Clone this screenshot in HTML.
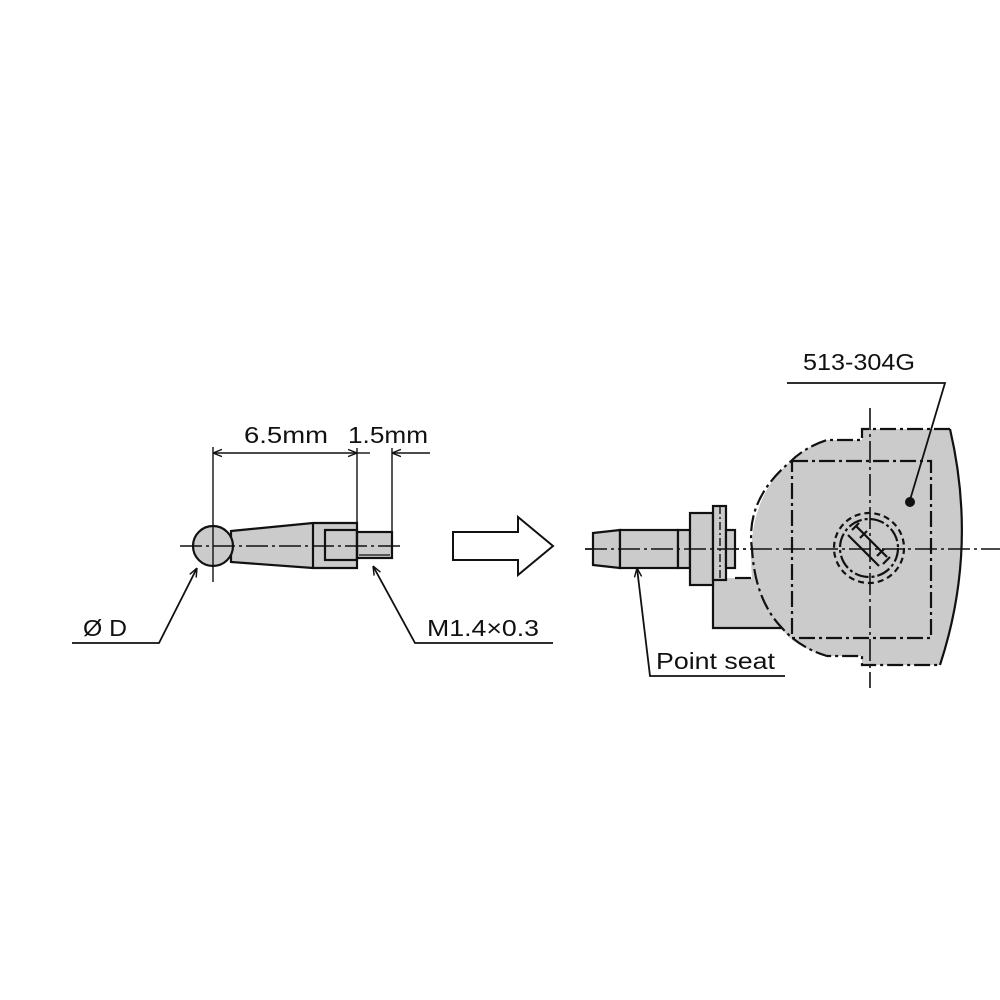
<!DOCTYPE html>
<html><head><meta charset="utf-8"><style>
html,body{margin:0;padding:0;background:#fff;}
svg{display:block;}
text{font-family:"Liberation Sans",sans-serif;fill:#111;}
</style></head><body>
<svg width="1000" height="1000" viewBox="0 0 1000 1000" xmlns="http://www.w3.org/2000/svg">
<defs>
<marker id="ah" viewBox="0 0 10 10" refX="10" refY="5" markerWidth="9" markerHeight="9" orient="auto-start-reverse" markerUnits="userSpaceOnUse">
<path d="M0,1 L10,5 L0,9" fill="none" stroke="#111" stroke-width="1.6"/>
</marker>
</defs>
<rect width="1000" height="1000" fill="#fff"/>

<!-- LEFT PROBE -->
<g stroke="#111" stroke-width="2.2" fill="#cbcbcb">
<path d="M231,531 L313,523 L357,523 L357,568 L313,568 L231,562 Z"/>
<circle cx="213" cy="546" r="20"/>
<rect x="357" y="532" width="35" height="26"/>
<line x1="313" y1="523" x2="313" y2="568"/>
<rect x="325" y="530" width="32" height="30" fill="none"/>
<line x1="359" y1="555" x2="390" y2="555" stroke-width="1.2"/>
</g>
<g stroke="#111" stroke-width="1.4" fill="none">
<line x1="180" y1="546" x2="403" y2="546" stroke-dasharray="22,4,3,4"/>
<line x1="213" y1="447" x2="213" y2="582"/>
<line x1="357" y1="448" x2="357" y2="523"/>
<line x1="392" y1="448" x2="392" y2="532"/>
<line x1="213" y1="453" x2="357" y2="453" marker-start="url(#ah)" marker-end="url(#ah)"/>
<line x1="430" y1="453" x2="392" y2="453" marker-end="url(#ah)"/>
<line x1="357" y1="453" x2="370" y2="453"/>
<polyline points="72,643 159,643 197,568" marker-end="url(#ah)" stroke-width="1.8"/>
<polyline points="553,643 415,643 373,566" marker-end="url(#ah)" stroke-width="1.8"/>
</g>
<text x="244" y="443" font-size="23" textLength="84" lengthAdjust="spacingAndGlyphs">6.5mm</text>
<text x="348" y="443" font-size="23" textLength="80" lengthAdjust="spacingAndGlyphs">1.5mm</text>
<text x="83" y="636" font-size="23" textLength="44" lengthAdjust="spacingAndGlyphs">Ø D</text>
<text x="427" y="636" font-size="23" textLength="112" lengthAdjust="spacingAndGlyphs">M1.4×0.3</text>

<!-- HOLLOW ARROW -->
<path d="M453,532 L518,532 L518,517 L553,546 L518,575 L518,560 L453,560 Z" fill="#fff" stroke="#111" stroke-width="2"/>

<!-- RIGHT BODY -->
<path d="M862,429 L950,429 Q978,549 940,665 L862,665 L862,656 L827,656 Q790,645 782,628 L713,628 L713,578 L752,578 Q745,500 790,462 Q805,447 827,440 L862,440 Z" fill="#cbcbcb" stroke="none"/>
<g fill="none" stroke="#111" stroke-width="2.2">
<path d="M950,429 Q978,549 940,665"/>
<path d="M713,578 L713,628 L782,628" />
</g>
<g fill="none" stroke="#111" stroke-width="2.2" stroke-dasharray="16,4,3,4">
<path d="M950,429 L862,429 L862,440 L827,440 Q805,447 790,462 Q745,500 752,549 Q755,600 782,628 Q800,648 827,656 L862,656 L862,665 L940,665"/>
<rect x="792" y="461" width="139" height="177"/>
<path d="M735,578 L752,578"/>
</g>
<g fill="none" stroke="#111" stroke-width="1.6">
<line x1="585" y1="549" x2="1000" y2="549" stroke-dasharray="22,4,3,4"/>
<line x1="870" y1="408" x2="870" y2="688" stroke-dasharray="22,4,3,4"/>
</g>
<!-- slot circles -->
<g fill="none" stroke="#111" stroke-width="2.2">
<circle cx="869" cy="548" r="35" stroke-dasharray="6,4"/>
<circle cx="869" cy="548" r="29" stroke-dasharray="14,3,3,3"/>
<line x1="848" y1="535" x2="879" y2="566"/>
<line x1="856" y1="526" x2="887" y2="557"/>
<line x1="852" y1="530" x2="859" y2="523"/>
<line x1="860" y1="538" x2="867" y2="531"/>
<line x1="877" y1="556" x2="884" y2="549"/>
<line x1="883" y1="564" x2="890" y2="557"/>
</g>
<circle cx="910" cy="502" r="5" fill="#111"/>

<!-- POINT SEAT PARTS -->
<g stroke="#111" stroke-width="2.2" fill="#cbcbcb">
<path d="M593,533 L620,530 L620,568 L593,565 Z"/>
<rect x="620" y="530" width="58" height="38"/>
<rect x="678" y="530" width="12" height="38"/>
<rect x="690" y="513" width="23" height="72"/>
<rect x="713" y="506" width="13" height="74"/>
<rect x="726" y="530" width="9" height="38"/>
</g>
<line x1="720" y1="506" x2="720" y2="580" stroke="#111" stroke-width="1.4" stroke-dasharray="8,3,2,3"/>
<line x1="585" y1="549" x2="750" y2="549" stroke="#111" stroke-width="1.6" stroke-dasharray="22,4,3,4"/>

<!-- LABELS -->
<g fill="none" stroke="#111" stroke-width="1.8">
<polyline points="787,383 945,383 910,500"/>
<polyline points="785,676 650,676 637,568" marker-end="url(#ah)"/>
</g>
<text x="803" y="370" font-size="23" textLength="112" lengthAdjust="spacingAndGlyphs">513-304G</text>
<text x="656" y="669" font-size="23" textLength="119" lengthAdjust="spacingAndGlyphs">Point seat</text>
</svg>
</body></html>
